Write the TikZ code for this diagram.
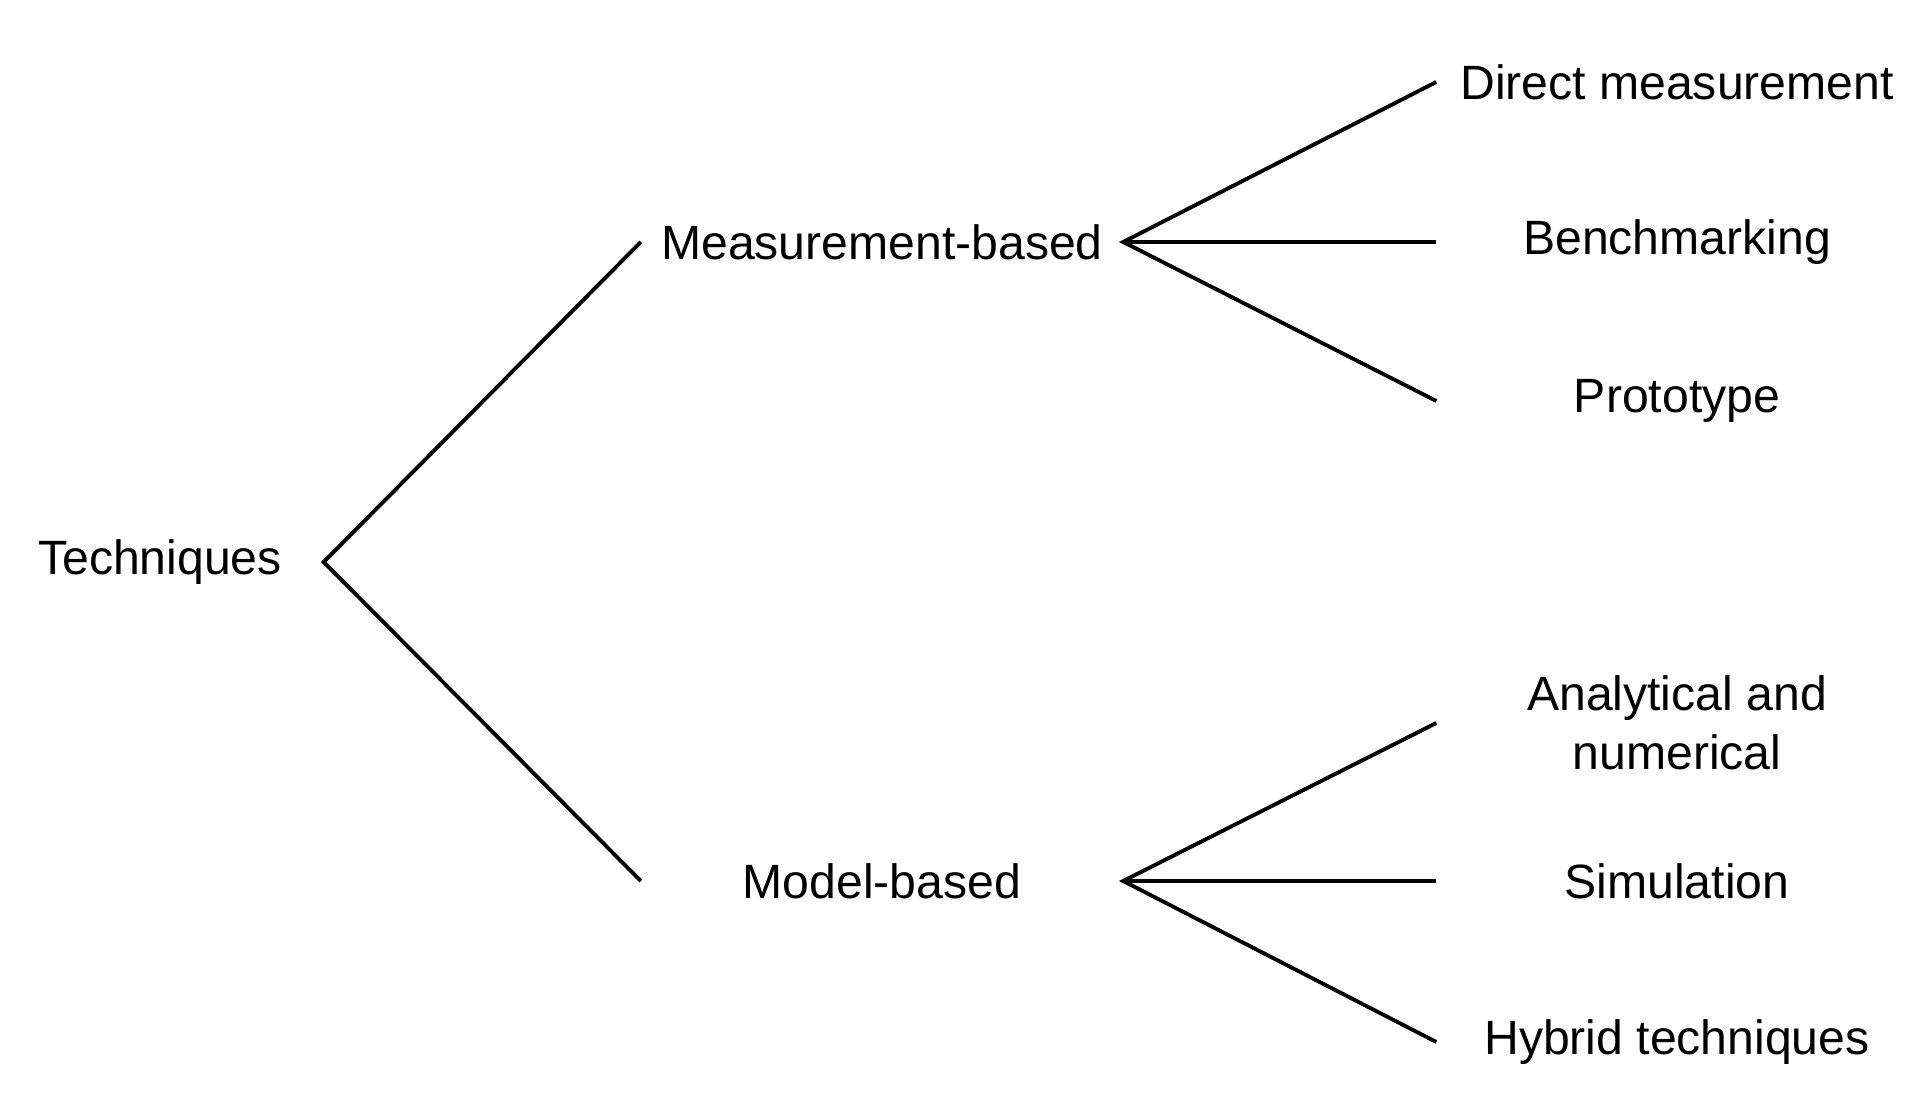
\documentclass[tikz,border=0pt]{standalone}
\usepackage{fontspec}
\setmainfont{Liberation Sans}
\usepackage{tikz}

\tikzset{
    lbl/.style = {inner sep = 0pt, align = center, font = \fontsize{13.7}{16.8}\selectfont},
    rootlbl/.style = {lbl, minimum width = 3.26cm},
    midlbl/.style = {lbl, minimum width = 4.81cm},
    leaflbl/.style = {lbl, minimum width = 4.80cm},
    branch/.style = {line width = 1.1pt, black}
}

\begin{document}
\begin{tikzpicture}
        \useasboundingbox (0,0) rectangle (19.24,11.2);
        % root
        \node [rootlbl] (techniques) at (1.60, 5.58) {Techniques};
        % second level
        \node [midlbl] (measurement) at (8.82, 8.78) {Measurement-based};
        \node [midlbl] (model) at (8.82, 2.39) {Model-based};
        % leaves
        \node [leaflbl] (direct) at (16.77, 10.38) {Direct measurement};
        \node [leaflbl] (bench) at (16.77, 8.78) {Benchmarking};
        \node [leaflbl] (proto) at (16.77, 7.19) {Prototype};
        \node [leaflbl] (analytical) at (16.77, 3.97) {Analytical and\\numerical};
        \node [leaflbl] (simulation) at (16.77, 2.39) {Simulation};
        \node [leaflbl] (hybrid) at (16.77, 0.78) {Hybrid techniques};
        % connectors
        \draw [branch] (measurement.west) -- (techniques.east) -- (model.west);
        \draw [branch] (direct.west) -- (measurement.east) -- (proto.west);
        \draw [branch] (measurement.east) -- (bench.west);
        \draw [branch] (analytical.west) -- (model.east) -- (hybrid.west);
        \draw [branch] (model.east) -- (simulation.west);
    \end{tikzpicture}
\end{document}
